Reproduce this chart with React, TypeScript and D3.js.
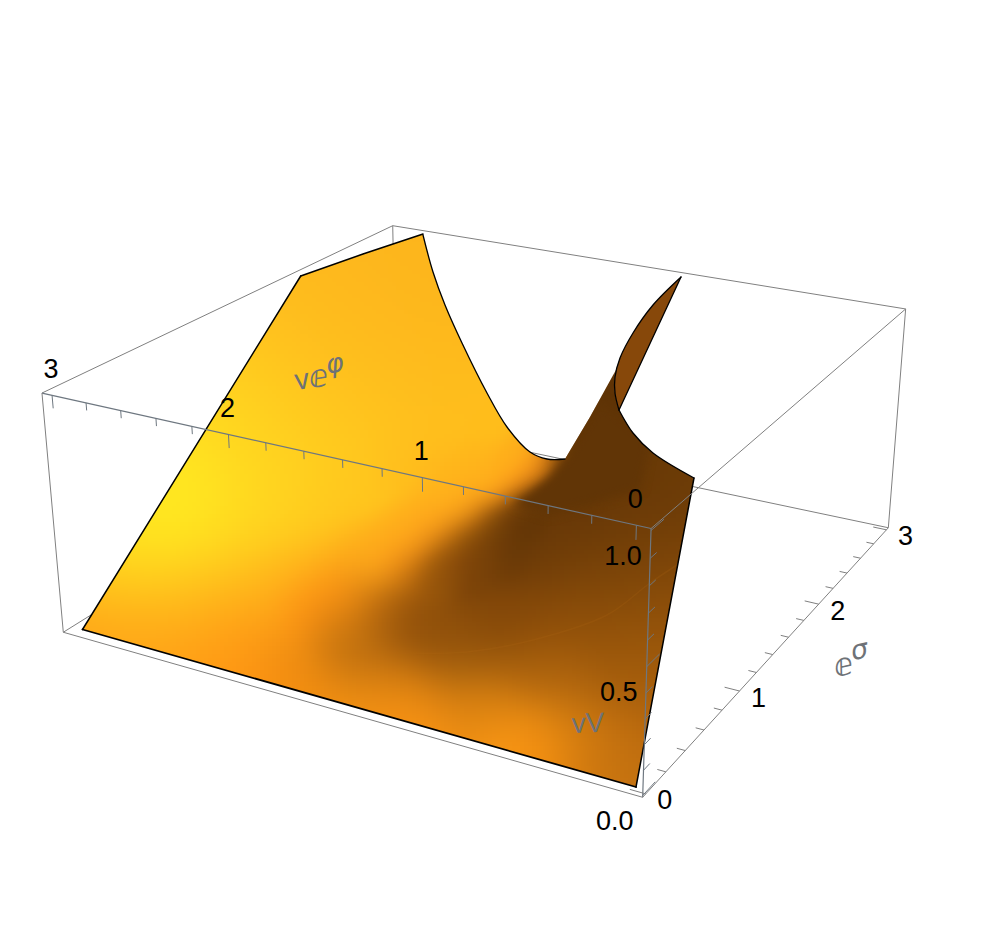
import React, { useMemo } from "react";
import * as d3 from "d3";

// ---------- axis data ----------
const xTicks = d3.range(0, 16).map((i) => i * 0.2); // ve^phi
const yTicks = d3.range(0, 16).map((i) => i * 0.2); // e^sigma
const zTicks = d3.range(0, 11).map((i) => i * 0.1); // vV
const xLabels = [0, 1, 2, 3];
const yLabels = [0, 1, 2, 3];
const zLabels = [0, 0.5, 1];
const xDomain: [number, number] = [-0.065, 3.06];
const yDomain: [number, number] = [-0.03, 3.03];
const zDomain: [number, number] = [-0.007, 1.007];

// ---------- surface rim (view plane units) ----------
const rimLeft = [[82.5, 629.5], [300.7, 276]];
const rimTop = [[300.7, 276], [363, 254], [423, 234]];
const rimValley = [[423, 235], [433, 272], [445, 305], [462, 343], [487, 393], [507, 427], [530, 452], [547, 459], [565, 459]];
const rimFold = [[565, 459], [590, 417], [617, 368]];
const rimFlapArc = [[681, 277], [653, 305], [633, 333], [620, 358], [615, 377], [615, 393], [619, 410]];
const rimFlapEdge = [[619, 410], [681, 277]];
const rimRightCurve = [[619, 410], [633, 433], [653, 453], [694, 478]];
const rimRight = [[694, 478], [636, 787]];
const rimFront = [[636, 787], [82.5, 629.5]];
const arcCrease = [[400, 653], [467, 652], [533, 640], [607, 615], [650, 583], [677, 565]];
const foldShadow = [[566, 457], [549, 477], [531, 492], [514, 505], [548, 516], [640, 490], [650, 440], [600, 400]];

// ---------- colour samples ----------
const lightSamples: [number, number, string][] = [
  [400, 250, "#fcb31c"], [340, 280, "#feb81d"], [430, 300, "#fdb51c"], [300, 340, "#ffc01e"], [380, 350, "#febc1d"],
  [460, 370, "#febb1c"], [240, 410, "#ffd31f"], [320, 420, "#ffc81e"], [400, 420, "#ffc01d"], [490, 430, "#ffbe1b"],
  [190, 470, "#ffe420"], [260, 470, "#ffd820"], [340, 470, "#ffcb1e"], [420, 480, "#ffbc1c"],
  [483, 470, "#ffb41b"], [150, 520, "#ffea20"], [210, 520, "#ffe220"], [280, 520, "#ffd41f"],
  [350, 520, "#ffc41d"], [170, 505, "#ffec20"], [130, 550, "#ffe31f"], [450, 487, "#ffb31b"],
  [120, 570, "#ffd81e"], [190, 570, "#ffd01e"], [260, 570, "#ffc51d"], [90, 620, "#ffaa18"], [150, 610, "#ffb41b"],
  [220, 610, "#ffae1a"], [370, 560, "#ffac1b"], [330, 580, "#ffac1a"], [290, 600, "#ffa419"],
];
const bandSamples: [number, number, string][] = [
  [550, 463, "#f08c18"], [540, 468, "#f88f18"], [527, 477, "#ff941a"], [513, 486, "#ff961a"], [500, 495, "#ff981a"],
  [483, 503, "#ff9a1a"], [467, 512, "#ff9a1a"], [450, 523, "#ff9a1a"], [433, 533, "#ff981a"], [417, 547, "#ff9719"],
  [400, 560, "#ff9518"], [367, 580, "#ff9215"], [333, 600, "#ff9012"], [310, 617, "#ff9012"], [243, 637, "#ff9614"],
  [530, 456, "#ffae1a"], [517, 465, "#ffac1a"], [503, 474, "#ffad1a"], [490, 483, "#ffaf1b"], [473, 491, "#ffaf1b"],
  [457, 500, "#ffb01b"], [440, 511, "#ffae1b"], [423, 521, "#ffae1b"], [407, 535, "#ffae1b"], [390, 548, "#ffae1b"],
];
const foldSamples: [number, number, string][] = [
  [550, 480, "#7a4308"], [537, 489, "#6b3a07"], [523, 498, "#693907"], [510, 507, "#6a3907"], [493, 515, "#7b4508"],
  [477, 524, "#8c4f09"], [460, 535, "#9a590a"], [443, 545, "#a5600b"], [427, 559, "#b0650c"], [410, 572, "#b8690d"],
  [558, 468, "#6a3907"], [568, 463, "#603406"], [575, 445, "#5f3305"], [590, 420, "#5f3305"], [610, 375, "#5f3305"],
  [440, 570, "#8f500a"], [480, 560, "#7a4208"], [497, 530, "#6f3d07"], [475, 545, "#7f4608"], [455, 560, "#87490a"], [430, 580, "#95540a"],
];
const lowerSamples: [number, number, string][] = [
  [150, 645, "#ffa017"], [100, 640, "#ffa017"], [200, 668, "#ff9a14"], [260, 673, "#ff9412"],
  [310, 695, "#f8900f"], [300, 660, "#e58610"], [353, 640, "#c0700f"], [367, 673, "#bf7010"], [400, 607, "#8f4f0a"],
  [367, 607, "#b8690d"], [333, 627, "#c8750e"],
  [410, 640, "#90500a"], [467, 687, "#a8650f"], [400, 703, "#ea8b12"], [467, 720, "#f08e12"], [533, 737, "#ff9a15"],
  [500, 747, "#ff9c16"], [360, 707, "#ff9a14"], [400, 722, "#ff9412"], [600, 753, "#d07a10"], [633, 770, "#c06f10"],
  [430, 735, "#ff9814"], [533, 753, "#f8900f"], [500, 720, "#e58810"], [560, 735, "#d9800f"],
  [633, 687, "#a8600c"], [533, 687, "#ae640d"], [567, 637, "#955309"], [633, 620, "#945309"], [500, 603, "#7f4508"],
  [467, 570, "#7a4208"], [500, 553, "#643606"], [533, 553, "#693907"], [517, 520, "#5f3305"], [600, 570, "#713e07"],
  [633, 553, "#774208"], [575, 470, "#633606"], [600, 430, "#5f3305"], [612, 395, "#5f3305"], [620, 420, "#5f3305"],
  [650, 470, "#683a06"], [685, 490, "#703d07"], [640, 500, "#663706"], [590, 510, "#623406"], [670, 560, "#804608"],
  [660, 620, "#90500a"], [650, 680, "#aa600c"], [640, 740, "#b8670d"], [632, 785, "#c87510"], [580, 775, "#e0820f"],
  [560, 700, "#c07010"], [450, 640, "#8f4f0a"], [540, 620, "#8a4b09"],
];
const shadeSamples = [...lightSamples, ...bandSamples, ...foldSamples, ...lowerSamples];

// ---------- layout ----------
const W = 997;
const H = 934;
// Where the corners of the unit box land on the page: camera calibration. [u, v, w, X, Y]
const cameraAnchors = [
  [0, 0, 1, 651, 528.5],
  [0, 0, 0, 642.7, 797.3],
  [1, 0, 1, 42, 393],
  [1, 0, 0, 63.3, 632.3],
  [0, 1, 1, 905.7, 309],
  [0, 1, 0, 888.3, 527.7],
  [1, 1, 1, 392.7, 225.7],
];

function solve(A: number[][], b: number[]) {
  const n = b.length;
  const M = A.map((r, i) => [...r, b[i]]);
  for (let i = 0; i < n; i++) {
    let p = i;
    for (let k = i + 1; k < n; k++) if (Math.abs(M[k][i]) > Math.abs(M[p][i])) p = k;
    [M[i], M[p]] = [M[p], M[i]];
    for (let k = i + 1; k < n; k++) {
      const f = M[k][i] / M[i][i];
      for (let j = i; j <= n; j++) M[k][j] -= f * M[i][j];
    }
  }
  const x = new Array(n).fill(0);
  for (let i = n - 1; i >= 0; i--) {
    let s = M[i][n];
    for (let j = i + 1; j < n; j++) s -= M[i][j] * x[j];
    x[i] = s / M[i][i];
  }
  return x;
}

function fitCamera() {
  const rows: number[][] = [];
  const rhs: number[] = [];
  for (const [u, v, w, X0, Y0] of cameraAnchors) {
    const X = X0 / 1000;
    const Y = Y0 / 1000;
    rows.push([u, v, w, 1, 0, 0, 0, 0, -X * u, -X * v, -X * w]);
    rhs.push(X);
    rows.push([0, 0, 0, 0, u, v, w, 1, -Y * u, -Y * v, -Y * w]);
    rhs.push(Y);
  }
  const n = 11;
  const ATA = d3.range(n).map((i) => d3.range(n).map((j) => d3.sum(rows, (r) => r[i] * r[j])));
  const ATb = d3.range(n).map((i) => d3.sum(rows, (r, k) => r[i] * rhs[k]));
  return solve(ATA, ATb);
}
const cam = fitCamera();
const uOf = d3.scaleLinear(xDomain, [0, 1]);
const vOf = d3.scaleLinear(yDomain, [0, 1]);
const wOf = d3.scaleLinear(zDomain, [0, 1]);
function projUnit(u: number, v: number, w: number): [number, number] {
  const d = cam[8] * u + cam[9] * v + cam[10] * w + 1;
  return [
    (1000 * (cam[0] * u + cam[1] * v + cam[2] * w + cam[3])) / d,
    (1000 * (cam[4] * u + cam[5] * v + cam[6] * w + cam[7])) / d,
  ];
}

const viewX = d3.scaleLinear([0, W], [0, W]);
const viewY = d3.scaleLinear([0, H], [0, H]);
const straight = d3.line<number[]>().x((d) => viewX(d[0])).y((d) => viewY(d[1]));
const smooth = d3.line<number[]>().x((d) => viewX(d[0])).y((d) => viewY(d[1])).curve(d3.curveCatmullRom.alpha(0.5));
const join = (parts: string[]) => parts.map((p, i) => (i === 0 ? p : "L" + p.slice(1))).join("");

const GREY = "#808080";
const AXIS = "#6e7780";
const mainPoly = [
  ...rimLeft, ...rimTop, ...rimValley, ...rimFold, [615, 377], [615, 393], [619, 410], ...rimRightCurve, ...rimRight, ...rimFront,
];

function Shade() {
  const cells = useMemo(() => {
    const size = 4;
    const poly = mainPoly.map((p) => [viewX(p[0]), viewY(p[1])] as [number, number]);
    const cols = shadeSamples.map((s) => d3.rgb(s[2]));
    // each colour sample's reach follows how closely its neighbours sit
    const sig2 = shadeSamples.map((s, i) => {
      const ds = shadeSamples
        .filter((_, j) => j !== i)
        .map((o) => Math.hypot(o[0] - s[0], o[1] - s[1]))
        .sort((a, b) => a - b);
      const sig = 0.66 * ds[2];
      return sig * sig;
    });
    const out: { x: number; y: number; c: string }[] = [];
    for (let y = 224; y < 800; y += size) {
      for (let x = 70; x < 706; x += size) {
        const near = [[0, 0], [12, 0], [-12, 0], [0, 12], [0, -12], [9, 9], [-9, 9], [9, -9], [-9, -9]].some(([a, b]) =>
          d3.polygonContains(poly, [x + a, y + b])
        );
        if (!near) continue;
        let sw = 0, r = 0, g = 0, b = 0;
        shadeSamples.forEach((s, i) => {
          const d2 = (s[0] - x) ** 2 + (s[1] - y) ** 2;
          const w = Math.exp(-d2 / (2 * sig2[i])) / sig2[i] + 1e-30;
          sw += w; r += w * cols[i].r; g += w * cols[i].g; b += w * cols[i].b;
        });
        out.push({ x, y, c: `rgb(${Math.round(r / sw)},${Math.round(g / sw)},${Math.round(b / sw)})` });
      }
    }
    return out;
  }, []);
  return (
    <g filter="url(#soft)">
      {cells.map((c, i) => (
        <rect key={i} x={c.x - 2} y={c.y - 2} width={4.5} height={4.5} fill={c.c} shapeRendering="crispEdges" />
      ))}
    </g>
  );
}

function seg(a: [number, number], b: [number, number], stroke: string, key: string, width = 1) {
  return <line key={key} x1={a[0]} y1={a[1]} x2={b[0]} y2={b[1]} stroke={stroke} strokeWidth={width} />;
}

export default function App() {
  const A = projUnit(1, 0, 1), B = projUnit(0, 0, 1), C = projUnit(0, 1, 1), Dd = projUnit(1, 1, 1);
  const Ee = projUnit(1, 0, 0), F = projUnit(0, 0, 0), G = projUnit(0, 1, 0), Hh = projUnit(1, 1, 0);
  const numFont = "'Liberation Sans', Arial, sans-serif";
  const isMajor = (t: number) => Math.abs(t - Math.round(t)) < 1e-6;
  const zMajor = (t: number) => Math.abs(t * 2 - Math.round(t * 2)) < 1e-6;
  return (
    <svg width={W} height={H} viewBox={`0 0 ${W} ${H}`} style={{ position: "absolute", left: 0, top: 0, display: "block", background: "#fff" }}>
      <defs>
        <filter id="soft" filterUnits="userSpaceOnUse" x="0" y="0" width={W} height={H} colorInterpolationFilters="sRGB">
          <feGaussianBlur stdDeviation="2.5" />
        </filter>
        <filter id="shadowEdge" filterUnits="userSpaceOnUse" x="0" y="0" width={W} height={H} colorInterpolationFilters="sRGB">
          <feGaussianBlur stdDeviation="5" />
        </filter>
        <clipPath id="mainClip">
          <path d={join([straight(rimLeft)!, straight(rimTop)!, smooth(rimValley)!, straight(rimFold)!, smooth(rimFlapArc.slice(4))!, smooth(rimRightCurve)!, straight(rimRight)!, straight(rimFront)!]) + "Z"} />
        </clipPath>
      </defs>

      {/* box edges behind the surface */}
      <g>
        {seg(Dd, C, GREY, "dc")}
        {seg(Dd, A, GREY, "da")}
        {seg(C, G, GREY, "cg")}
        {seg(Dd, Hh, GREY, "dh")}
        {seg(G, Hh, GREY, "gh")}
        {seg(Ee, Hh, GREY, "eh")}
      </g>

      {/* surface */}
      <path d={join([smooth(rimFlapArc)!, straight(rimFlapEdge)!]) + "Z"} fill="#87480a" />
      <g clipPath="url(#mainClip)">
        <Shade />
        <path d={straight(foldShadow)! + "Z"} fill="#613506" filter="url(#shadowEdge)" />
        <path d={smooth(arcCrease)!} fill="none" stroke="#b06a14" strokeOpacity={0.18} strokeWidth={1.5} />
      </g>
      <g fill="none" stroke="#000" strokeLinejoin="round" strokeLinecap="round">
        <path d={straight(rimLeft)!} strokeWidth={1.5} />
        <path d={straight(rimTop)!} strokeWidth={1.5} />
        <path d={smooth(rimValley)!} strokeWidth={1.3} />
        <path d={smooth(rimFlapArc)!} strokeWidth={1.3} />
        <path d={straight(rimFlapEdge)!} strokeWidth={1.3} />
        <path d={smooth(rimRightCurve)!} strokeWidth={1.3} />
        <path d={straight(rimRight)!} strokeWidth={1.5} />
        <path d={straight(rimFront)!} strokeWidth={1.8} />
      </g>

      {/* box edges in front */}
      <g>
        {seg(A, B, AXIS, "ab", 1.2)}
        {seg(B, F, AXIS, "bf", 1.2)}
        {seg(B, C, GREY, "bc")}
        {seg(A, Ee, GREY, "ae")}
        {seg(Ee, F, GREY, "ef")}
        {seg(F, G, GREY, "fg")}
      </g>

      {/* ticks */}
      <g>
        {xTicks.map((t) => {
          const u = uOf(t);
          return seg(projUnit(u, 0, 1), projUnit(u, 0, 1 - (isMajor(t) ? 0.052 : 0.03)), AXIS, "xt" + t);
        })}
        {yTicks.map((t) => {
          const v = vOf(t);
          return seg(projUnit(0, v, 0), projUnit(isMajor(t) ? 0.024 : 0.013, v, 0), GREY, "yt" + t);
        })}
        {zTicks.map((t) => {
          const w = wOf(t);
          return seg(projUnit(0, 0, w), projUnit(0, zMajor(t) ? 0.04 : 0.02, w), AXIS, "zt" + t);
        })}
      </g>

      {/* tick labels */}
      <g fontFamily={numFont} fontSize={27} fill="#000" textAnchor="middle">
        {xLabels.map((t) => {
          const p = projUnit(uOf(t), 0, 1);
          return <text key={"xl" + t} x={p[0] - 1} y={p[1] - 27 + 9.5}>{d3.format("d")(t)}</text>;
        })}
        {yLabels.map((t) => {
          const p = projUnit(0, vOf(t), 0);
          return <text key={"yl" + t} x={p[0] + 19} y={p[1] + 6 + 9.5}>{d3.format("d")(t)}</text>;
        })}
        {zLabels.map((t) => {
          const p = projUnit(0, 0, wOf(t));
          return <text key={"zl" + t} x={p[0] - 28} y={p[1] + 25 + 9.5}>{d3.format(".1f")(t)}</text>;
        })}
      </g>

      {/* axis labels */}
      <g fill="#6e7277" fontFamily={numFont}>
        <g transform="translate(296 390) rotate(-8)">
          <text fontSize={29}>v<tspan fontFamily="'DejaVu Sans'" fontStyle="italic" fontSize={31}>ⅇ</tspan></text>
          <text x={33} y={-12} fontSize={27} fontFamily="'DejaVu Sans'" fontStyle="italic">φ</text>
        </g>
        <g transform="translate(572 733) rotate(-2)">
          <text fontSize={28}>vV</text>
        </g>
        <g transform="translate(836 677) rotate(-12)">
          <text fontFamily="'DejaVu Sans'" fontStyle="italic" fontSize={31}>ⅇ</text>
          <text x={20} y={-13} fontSize={27} fontFamily="'DejaVu Sans'" fontStyle="italic">σ</text>
        </g>
      </g>
    </svg>
  );
}
